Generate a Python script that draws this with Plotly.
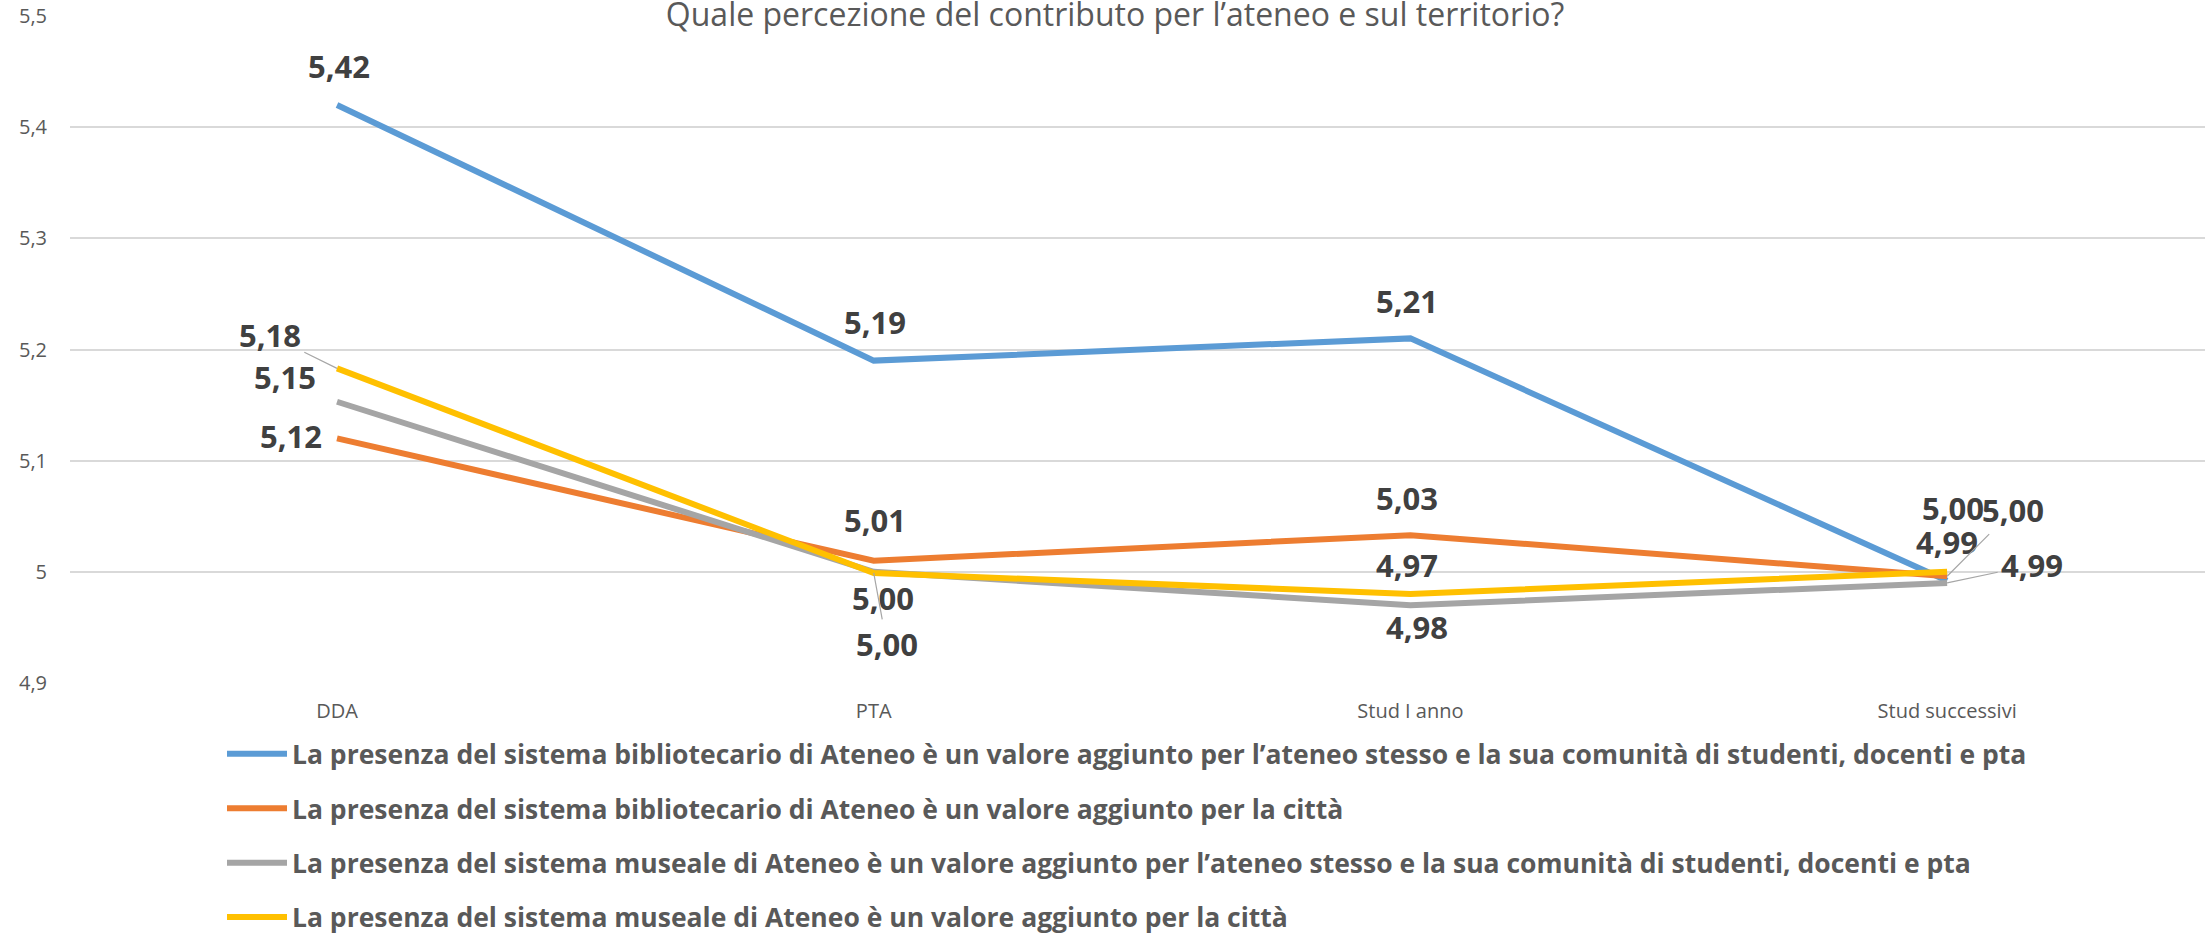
import plotly.graph_objects as go

# ---------------- data ----------------
categories = ["DDA", "PTA", "Stud I anno", "Stud successivi"]

series_names = [
    "La presenza del sistema bibliotecario di Ateneo è un valore aggiunto per l’ateneo stesso e la sua comunità di studenti, docenti e pta",
    "La presenza del sistema bibliotecario di Ateneo è un valore aggiunto per la città",
    "La presenza del sistema museale di Ateneo è un valore aggiunto per l’ateneo stesso e la sua comunità di studenti, docenti e pta",
    "La presenza del sistema museale di Ateneo è un valore aggiunto per la città",
]

biblio_ateneo = [5.42, 5.19, 5.21, 4.992]
biblio_citta = [5.12, 5.01, 5.033, 4.996]
museo_ateneo = [5.153, 5.00, 4.97, 4.99]
museo_citta = [5.183, 4.999, 4.98, 5.00]

y_tickvals = [4.9, 5.0, 5.1, 5.2, 5.3, 5.4, 5.5]
y_ticktext = ["4,9", "5", "5,1", "5,2", "5,3", "5,4", "5,5"]

title_text = "Quale percezione del contributo per l’ateneo e sul territorio?"

# ---------------- styles ----------------
colors = ["#5B9BD5", "#ED7D31", "#A5A5A5", "#FFC000"]
all_values = [biblio_ateneo, biblio_citta, museo_ateneo, museo_citta]

# label offsets (pixels, dx right, dy down) from each point
label_offsets = [
    [(2, -39), (1, -39), (-3, -37), (0, -39)],
    [(-46, -2), (1, -41), (-3, -37), (66, -66)],
    [(-52, -25), (9, 26), (-3, -40), (85, -18)],
    [(-67, -33), (13, 71), (7, 33), (6, -64)],
]
leaders = {(3, 0), (3, 1), (1, 3), (2, 3)}

FONT = "Open Sans"

fig = go.Figure()
for i, (name, vals, col) in enumerate(zip(series_names, all_values, colors)):
    fig.add_trace(go.Scatter(
        x=categories, y=vals, name=name, mode="lines",
        line=dict(color=col, width=6),
        legendgroup=f"g{i}",
        hoverinfo="skip",
    ))

annotations = []
for si, vals in enumerate(all_values):
    for pi, v in enumerate(vals):
        dx, dy = label_offsets[si][pi]
        txt = f"{v:.2f}".replace(".", ",")
        base = dict(x=categories[pi], y=v, xref="x", yref="y", text=txt,
                    font=dict(family=FONT, size=31, color="#404040", weight="bold"))
        if (si, pi) in leaders:
            base.update(showarrow=True, ax=dx, ay=dy, arrowhead=0, arrowwidth=1.2,
                        arrowcolor="#A6A6A6", standoff=0, startstandoff=2)
        else:
            base.update(showarrow=False, xshift=dx, yshift=-dy)
        annotations.append(base)

fig.update_layout(
    width=2205, height=934,
    paper_bgcolor="white", plot_bgcolor="white",
    margin=dict(l=70, r=0, t=16, b=251, autoexpand=False),
    separators=",.",
    title=dict(text=title_text, x=0.5057, xref="container", xanchor="center",
               y=0.984, yref="container", yanchor="middle",
               font=dict(family=FONT, size=32, color="#595959")),
    xaxis=dict(type="category", range=[-0.4975, 3.4805], showgrid=False,
               showline=False, zeroline=False, ticks="",
               ticklabelstandoff=14,
               tickfont=dict(family=FONT, size=20, color="#595959")),
    yaxis=dict(range=[4.9, 5.5], tickvals=y_tickvals, ticktext=y_ticktext,
               showgrid=True, gridcolor="#D9D9D9", gridwidth=1.5,
               showline=False, zeroline=False, ticks="",
               ticklabelstandoff=22,
               tickfont=dict(family=FONT, size=20, color="#595959")),
    showlegend=True,
    legend=dict(orientation="v", x=222 / 2205, xref="container", xanchor="left",
                y=1 - 730 / 934, yref="container", yanchor="top",
                font=dict(family=FONT, size=26.5, color="#595959", weight="bold"),
                itemwidth=60, tracegroupgap=17, bgcolor="rgba(0,0,0,0)",
                itemclick=False, itemdoubleclick=False),
    annotations=annotations,
)

fig.write_html("out.html", config={"displayModeBar": False},
               post_script="document.body.style.margin='0';")
